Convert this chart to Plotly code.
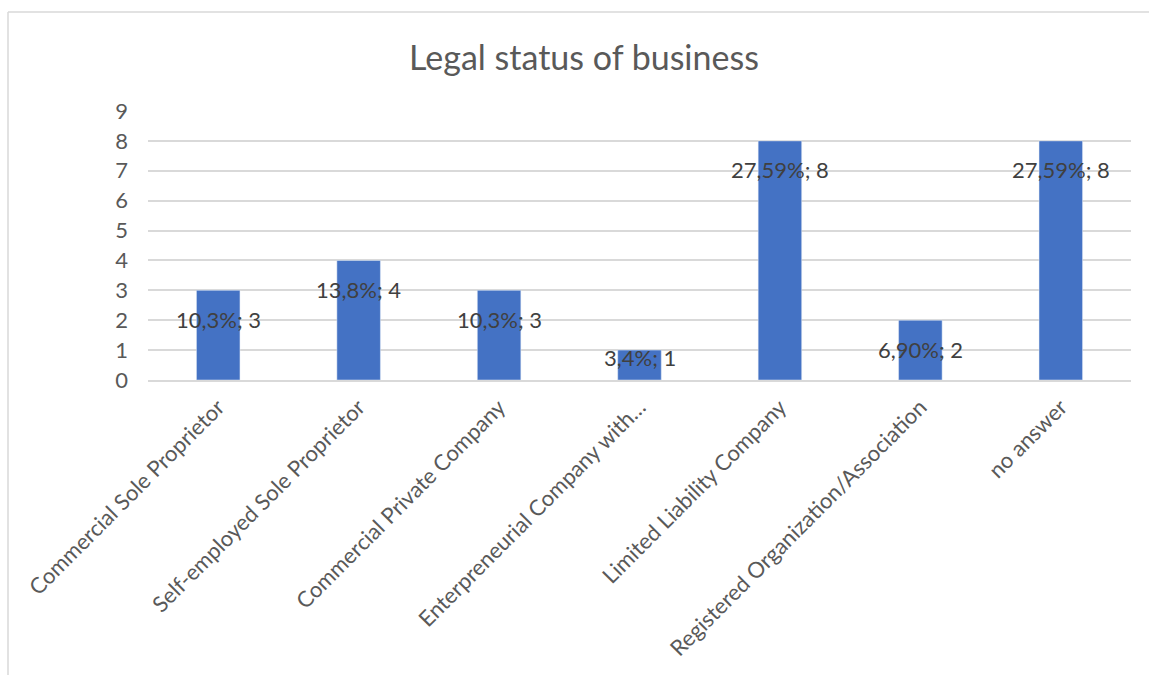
import plotly.graph_objects as go

categories = [
    "Commercial Sole Proprietor",
    "Self-employed Sole Proprietor",
    "Commercial Private Company",
    "Enterpreneurial Company with…",
    "Limited Liability Company",
    "Registered Organization/Association",
    "no answer",
]
counts = [3, 4, 3, 1, 8, 2, 8]
percent_labels = ["10,3%", "13,8%", "10,3%", "3,4%", "27,59%", "6,90%", "27,59%"]
y_ticks = [0, 1, 2, 3, 4, 5, 6, 7, 8, 9]

W, H = 1149, 675
ML, MR, MT, MB = 148, 18, 111, 295
plot_h = H - MT - MB
px_per_unit = plot_h / 9.0

FONT = "Lato"
fig = go.Figure()
fig.add_trace(go.Bar(
    x=categories, y=counts, marker_color="#4472C4", width=0.31,
    hoverinfo="x+y",
))

for c, v, p in zip(categories, counts, percent_labels):
    shift = -min(29, v * px_per_unit - 22)
    fig.add_annotation(x=c, y=v, text=f"{p}; {v}", showarrow=False,
                       yshift=shift, yanchor="middle",
                       font=dict(family=FONT, size=22, color="#404040"))

# outer chart border (left and top visible)
pw = W - ML - MR
x_left = (8 - ML) / pw
y_top = (H - MB - 12) / plot_h
fig.add_shape(type="line", xref="paper", yref="paper", x0=x_left, x1=x_left,
              y0=y_top, y1=-3, line=dict(color="#D9D9D9", width=1.5))
fig.add_shape(type="line", xref="paper", yref="paper", x0=x_left, x1=2,
              y0=y_top, y1=y_top, line=dict(color="#D9D9D9", width=1.5))

fig.update_layout(
    width=W, height=H,
    margin=dict(l=ML, r=MR, t=MT, b=MB),
    paper_bgcolor="white", plot_bgcolor="white",
    title=dict(text="Legal status of business", x=584 / W, xanchor="center",
               y=1 - 58 / H, yanchor="middle",
               font=dict(family=FONT, size=34, color="#595959")),
    showlegend=False,
    bargap=0.69,
    xaxis=dict(tickangle=-45, showgrid=False, showline=True, linecolor="#D9D9D9",
               linewidth=1.5, tickfont=dict(family=FONT, size=22, color="#595959"),
               ticks="", ticklabelstandoff=4),
    yaxis=dict(range=[0, 9], tickvals=y_ticks, showgrid=True, gridcolor="#D9D9D9",
               gridwidth=1.5, zeroline=False, showline=False,
               tickfont=dict(family=FONT, size=22, color="#595959"),
               ticklabelstandoff=19),
)

fig.write_html("out.html", config={"displayModeBar": False},
               post_script="document.body.style.margin='0';document.body.style.overflow='hidden';")
